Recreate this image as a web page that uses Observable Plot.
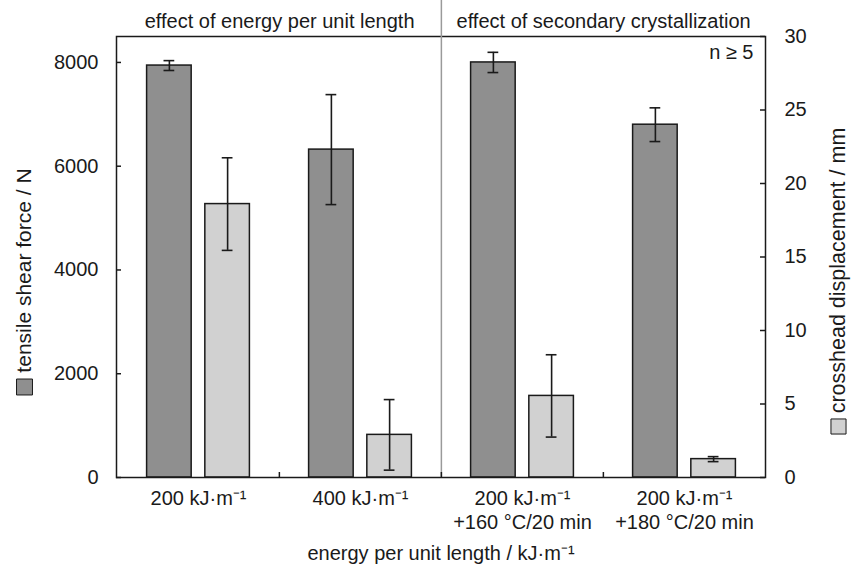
<!DOCTYPE html>
<html>
<head>
<meta charset="utf-8">
<script src="https://cdn.jsdelivr.net/npm/d3@7"></script>
<script src="https://cdn.jsdelivr.net/npm/@observablehq/plot@0.6"></script>
<style>
  body { margin: 0; background: #fff; }
  #chart svg { font-family: "Liberation Sans", Arial, sans-serif; }
</style>
</head>
<body>
<div id="chart"></div>
<script>
// ---- data ----
const groups = [
  "200 kJ·m⁻¹",
  "400 kJ·m⁻¹",
  "200 kJ·m⁻¹\n+160 °C/20 min",
  "200 kJ·m⁻¹\n+180 °C/20 min"
];
const forceMean = [7940, 6320, 8000, 6800];   // tensile shear force / N
const forceErr  = [95, 1060, 195, 325];
const dispMean  = [18.6, 2.9, 5.55, 1.25];     // crosshead displacement / mm
const dispErr   = [3.15, 2.4, 2.8, 0.17];
const forceTicks = [0, 2000, 4000, 6000, 8000];
const dispTicks  = [0, 5, 10, 15, 20, 25, 30];
const forceMax = 8500;
const dispMax = 30;
const sectionTitles = ["effect of energy per unit length", "effect of secondary crystallization"];
const sectionStart = [0, 2];
const note = "n ≥ 5";
const yLabelLeft = "tensile shear force / N";
const yLabelRight = "crosshead displacement / mm";
const xLabel = "energy per unit length / kJ·m⁻¹";

// ---- layout / style ----
const W = 855, H = 573;
const mL = 116, mR = 90, mT = 36, mB = 96;
const plotW = W - mL - mR, plotH = H - mT - mB;
const step = plotW / groups.length;
const outer = 29.6, gap = 13.4;
const barW = (step - 2 * outer - gap) / 2;
const capHalf = 5.5;
const dark = "#8f8f8f", light = "#d1d1d1", ink = "#1a1a1a";
const FS = 20, FSL = 21;

// map displacement onto the force axis (dual axis)
const k = forceMax / dispMax;

const forceRows = groups.map((g, i) => ({group: g, value: forceMean[i], lo: forceMean[i] - forceErr[i], hi: forceMean[i] + forceErr[i]}));
const dispRows = groups.map((g, i) => ({group: g, value: dispMean[i] * k, lo: (dispMean[i] - dispErr[i]) * k, hi: (dispMean[i] + dispErr[i]) * k}));

const darkCenter = outer + barW / 2;            // from band start
const lightCenter = step - outer - barW / 2;

const chart = Plot.plot({
  width: W, height: H,
  marginLeft: mL, marginRight: mR, marginTop: mT, marginBottom: mB,
  style: {fontSize: FS + "px", fontFamily: '"Liberation Sans", Arial, sans-serif', color: ink, background: "#fff"},
  x: {type: "band", domain: groups, padding: 0},
  y: {domain: [0, forceMax]},
  marks: [
    // bars
    Plot.barY(forceRows, {x: "group", y: "value", fill: dark, stroke: ink, strokeWidth: 1.5,
      insetLeft: outer, insetRight: step - outer - barW}),
    Plot.barY(dispRows, {x: "group", y: "value", fill: light, stroke: ink, strokeWidth: 1.5,
      insetLeft: step - outer - barW, insetRight: outer}),
    // error bars
    Plot.ruleX(forceRows, {x: "group", y1: "lo", y2: "hi", dx: darkCenter - step / 2, stroke: ink, strokeWidth: 1.6}),
    Plot.ruleX(dispRows, {x: "group", y1: "lo", y2: "hi", dx: lightCenter - step / 2, stroke: ink, strokeWidth: 1.6}),
    ...["lo", "hi"].flatMap(key => [
      Plot.tickY(forceRows, {x: "group", y: key, stroke: ink, strokeWidth: 1.6,
        insetLeft: darkCenter - capHalf, insetRight: step - darkCenter - capHalf}),
      Plot.tickY(dispRows, {x: "group", y: key, stroke: ink, strokeWidth: 1.6,
        insetLeft: lightCenter - capHalf, insetRight: step - lightCenter - capHalf})
    ]),
    // frame
    Plot.frame({stroke: ink, strokeWidth: 1.5}),
    // section divider (extends above the frame)
    Plot.ruleX([groups[2]], {x: d => d, dx: -step / 2, stroke: "#9a9a9a", strokeWidth: 1.5, insetTop: -mT}),
    // minor ticks at group boundaries
    Plot.ruleX(groups.slice(1), {x: d => d, dx: -step / 2, stroke: ink, strokeWidth: 1.5, insetTop: plotH - 5}),
    // left axis
    Plot.axisY(forceTicks, {anchor: "left", tickSize: 0, tickPadding: 18, label: null, fontSize: FS,
      tickFormat: d => String(d)}),
    Plot.tickY(forceTicks, {y: d => d, stroke: ink, strokeWidth: 1.5, insetRight: plotW - 5}),
    // right axis
    Plot.axisY(dispTicks.map(v => v * k), {anchor: "right", tickSize: 0, tickPadding: 19, label: null, fontSize: FS,
      tickFormat: d => String(Math.round(d / k))}),
    Plot.tickY(dispTicks.map(v => v * k), {y: d => d, stroke: ink, strokeWidth: 1.5, insetLeft: plotW - 5}),
    // x axis labels
    Plot.axisX({tickSize: 0, tickPadding: 10, label: null, fontSize: FS, lineHeight: 1.22}),
    // section titles
    Plot.text(sectionTitles, {x: (d, i) => groups[sectionStart[i]], dx: step / 2, frameAnchor: "top",
      lineAnchor: "bottom", dy: -9, fontSize: FS, fill: ink}),
    // n >= 5
    Plot.text([note], {frameAnchor: "top-right", textAnchor: "end", lineAnchor: "bottom", dx: -12, dy: 22, fontSize: FS, fill: ink}),
    // y axis titles with swatches
    Plot.text([yLabelLeft], {frameAnchor: "left", rotate: -90, dx: -92, dy: 13.5, fontSize: FSL, fill: ink, textAnchor: "middle"}),
    Plot.dot([yLabelLeft], {frameAnchor: "left", symbol: "square", r: 9, dx: -92, dy: 130, fill: dark, stroke: ink, strokeWidth: 1}),
    Plot.text([yLabelRight], {frameAnchor: "right", rotate: -90, dx: 73, dy: 13.5, fontSize: FSL + 0.5, fill: ink, textAnchor: "middle"}),
    Plot.dot([yLabelRight], {frameAnchor: "right", symbol: "square", r: 8.5, dx: 73, dy: 169.5, fill: light, stroke: ink, strokeWidth: 1}),
    // x axis title
    Plot.text([xLabel], {frameAnchor: "bottom", lineAnchor: "bottom", dy: 82, fontSize: FS, fill: ink})
  ]
});
document.getElementById("chart").append(chart);
</script>
</body>
</html>
